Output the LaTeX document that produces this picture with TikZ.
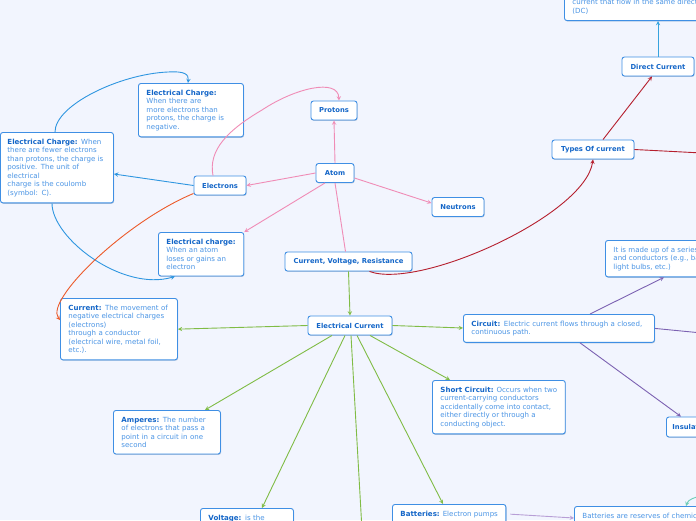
\documentclass[tikz,border=0pt]{standalone}
\usepackage{fontspec}
\setmainfont{DejaVu Sans}
\usetikzlibrary{shadows}
\definecolor{bgpage}{HTML}{F2F5FE}
\definecolor{boxblue}{HTML}{3F8FE4}
\definecolor{titleblue}{HTML}{1466C8}
\definecolor{bodyblue}{HTML}{4B95E5}
\definecolor{pinkline}{HTML}{F08CB6}
\definecolor{blueline}{HTML}{2F96E0}
\definecolor{cyanline}{HTML}{37A3DE}
\definecolor{orangeline}{HTML}{EC5A2A}
\definecolor{redline}{HTML}{B51F2E}
\definecolor{greenline}{HTML}{80BC45}
\definecolor{purpleline}{HTML}{7C62B2}
\definecolor{lilacline}{HTML}{B79ED6}
\definecolor{tealline}{HTML}{6CCDB8}
\newcommand{\topicfont}{\bfseries\fontsize{6.8}{8.5}\selectfont}
\newcommand{\notefont}{\fontsize{7.05}{8.5}\selectfont}
\newcommand{\ttl}[1]{{\bfseries\color{titleblue}#1}}

\begin{document}
\begin{tikzpicture}[x=1pt, y=-1pt, >=stealth,
    topic/.style={draw=boxblue, fill=white, line width=0.9pt, rounded corners=2.5pt,
      font=\topicfont, text=titleblue, minimum height=19pt, inner xsep=6pt, inner ysep=0pt,
      drop shadow={shadow xshift=0.6pt, shadow yshift=-0.9pt, fill=boxblue!60!black, opacity=0.3}},
    note/.style={topic, font=\notefont, text=bodyblue, align=left, anchor=north west,
      minimum height=0pt, inner xsep=8pt, inner ysep=6.3pt},
    link/.style={->, line width=0.9pt}]
  % page
  \clip (0,0) rectangle (696,520);
  \fill[bgpage] (0,0) rectangle (696,520);

  % atom
  \node[topic, minimum width=38pt] (atom) at (335,173) {Atom};
  \node[topic, minimum width=46pt] (protons) at (334,110.5) {Protons};
  \node[topic, minimum width=52pt] (electrons) at (220,185.5) {Electrons};
  \node[topic, minimum width=52pt] (neutrons) at (458,207) {Neutrons};
  \node[note, text width=89pt] (negcharge) at (138,83) {\ttl{Electrical Charge:}\\When there are\\more electrons than\\protons, the charge is\\negative.};
  \node[note, inner xsep=7pt, text width=99pt] (poscharge) at (0,132) {\ttl{Electrical Charge:} When\\there are fewer electrons\\than protons, the charge is\\positive. The unit of\\electrical\\charge is the coulomb\\(symbol: C).};
  \node[note] (losecharge) at (158,232) {\ttl{Electrical charge:}\\When an atom\\loses or gains an\\electron};

  % current, voltage, resistance
  \node[topic, minimum width=127pt] (cvr) at (348.5,261.5) {Current, Voltage, Resistance};
  \node[topic, minimum width=84pt] (ecurrent) at (350,325.5) {Electrical Current};
  \node[note, text width=101pt] (currentnote) at (60,298) {\ttl{Current:} The movement of\\negative electrical charges\\(electrons)\\through a conductor\\(electrical wire, metal foil,\\etc.).};
  \node[note, text width=175pt] (circuit) at (463,314) {\ttl{Circuit:} Electric current flows through a closed,\\continuous path.};
  \node[note] (series) at (605,240) {It is made up of a series of\\and conductors (e.g., batteries,\\light bulbs, etc.)};
  \node[topic, anchor=west, minimum height=20pt] (insula) at (666,427) {Insulators};
  \node[note] (shortc) at (432,380) {\ttl{Short Circuit:} Occurs when two\\current-carrying conductors\\accidentally come into contact,\\either directly or through a\\conducting object.};
  \node[note, text width=91pt] (amperes) at (113,410) {\ttl{Amperes:} The number\\of electrons that pass a\\point in a circuit in one\\second};
  \node[note, text width=77pt] (voltage) at (200,508) {\ttl{Voltage:} is the};
  \node[note] (batteries) at (392,504) {\ttl{Batteries:} Electron pumps};
  \node[note] (reserves) at (574,506) {Batteries are reserves of chemical energy};

  % types of current
  \node[topic, minimum width=82pt] (types) at (593,149.5) {Types Of current};
  \node[topic, minimum width=72pt] (direct) at (658,66.5) {Direct Current};
  \node[note, anchor=south west] (dcnote) at (564,21) {current that flow in the same direction\\(DC)};

  % free ends
  \coordinate (typesend) at (702,153);
  \coordinate (circuitend) at (702,333);
  \coordinate (ecend) at (362,530);
  \coordinate (tealstart) at (702,496);

  % atom links
  \draw[link, pinkline] (atom.north) -- (protons.south);
  \draw[link, pinkline] (atom.west) -- (electrons.east);
  \draw[link, pinkline] ([yshift=-5pt]atom.east) -- ([yshift=-6pt]neutrons.north west);
  \draw[link, pinkline] ([xshift=-10pt]atom.south) -- (losecharge.north east);
  \draw[line width=0.9pt, pinkline] (atom.south) -- ([xshift=-3pt]cvr.north);
  \draw[link, pinkline] ([xshift=-7pt]electrons.north) .. controls (208,150) and (228,130) .. (262,110)
    .. controls (295,88) and (338,78) .. ([xshift=5pt]protons.north);

  % charge links
  \draw[link, blueline] (electrons.west) -- ([yshift=-42pt]poscharge.north east);
  \draw[link, blueline] ([xshift=55pt]poscharge.north west) .. controls (55,105) and (120,74) .. (168,72)
    .. controls (184,71) and (189,74) .. ([xshift=50pt]negcharge.north west);
  \draw[link, blueline] ([xshift=52pt]poscharge.south west) .. controls (52,238) and (122,292) .. ([xshift=17pt]losecharge.south west);
  \draw[link, orangeline] ([yshift=2pt]electrons.south west) .. controls (125,222) and (45,300) .. ([yshift=-22pt]currentnote.north west);

  % current links
  \draw[link, greenline] (cvr.south) -- (ecurrent.north);
  \draw[link, redline] ([xshift=21pt]cvr.south) .. controls (420,290) and (585,215) .. (types.south);
  \draw[link, greenline] (ecurrent.west) -- (currentnote.east);
  \draw[link, greenline] (ecurrent.east) -- ([yshift=-14pt]circuit.north west);
  \draw[link, greenline] ([xshift=20pt]ecurrent.south) -- ([xshift=18pt]shortc.north west);
  \draw[link, greenline] ([xshift=-18pt]ecurrent.south) -- ([xshift=92pt]amperes.north west);
  \draw[link, greenline] ([xshift=-5pt]ecurrent.south) -- ([xshift=62pt]voltage.north west);
  \draw[link, greenline] ([xshift=7pt]ecurrent.south) -- ([xshift=51pt]batteries.north west);
  \draw[line width=0.9pt, greenline] ([xshift=1pt]ecurrent.south) -- (ecend);

  % circuit links
  \draw[link, purpleline] ([xshift=127pt]circuit.north west) -- ([xshift=59pt]series.south west);
  \draw[line width=0.9pt, purpleline] (circuit.east) -- (circuitend);
  \draw[link, purpleline] ([xshift=117pt]circuit.south west) -- ([xshift=15pt]insula.north west);
  \draw[link, lilacline] ([xshift=4pt]batteries.east) -- ([yshift=-12pt]reserves.north west);
  \draw[link, tealline] (tealstart) .. controls (694,497) and (688,500) .. ([xshift=112pt]reserves.north west);

  % types links
  \draw[line width=0.9pt, redline] (types.east) -- (typesend);
  \draw[link, redline] ([xshift=10pt]types.north) -- ([xshift=-6pt]direct.south);
  \draw[link, cyanline] (direct.north) -- (direct.north |- dcnote.south);
\end{tikzpicture}
\end{document}
